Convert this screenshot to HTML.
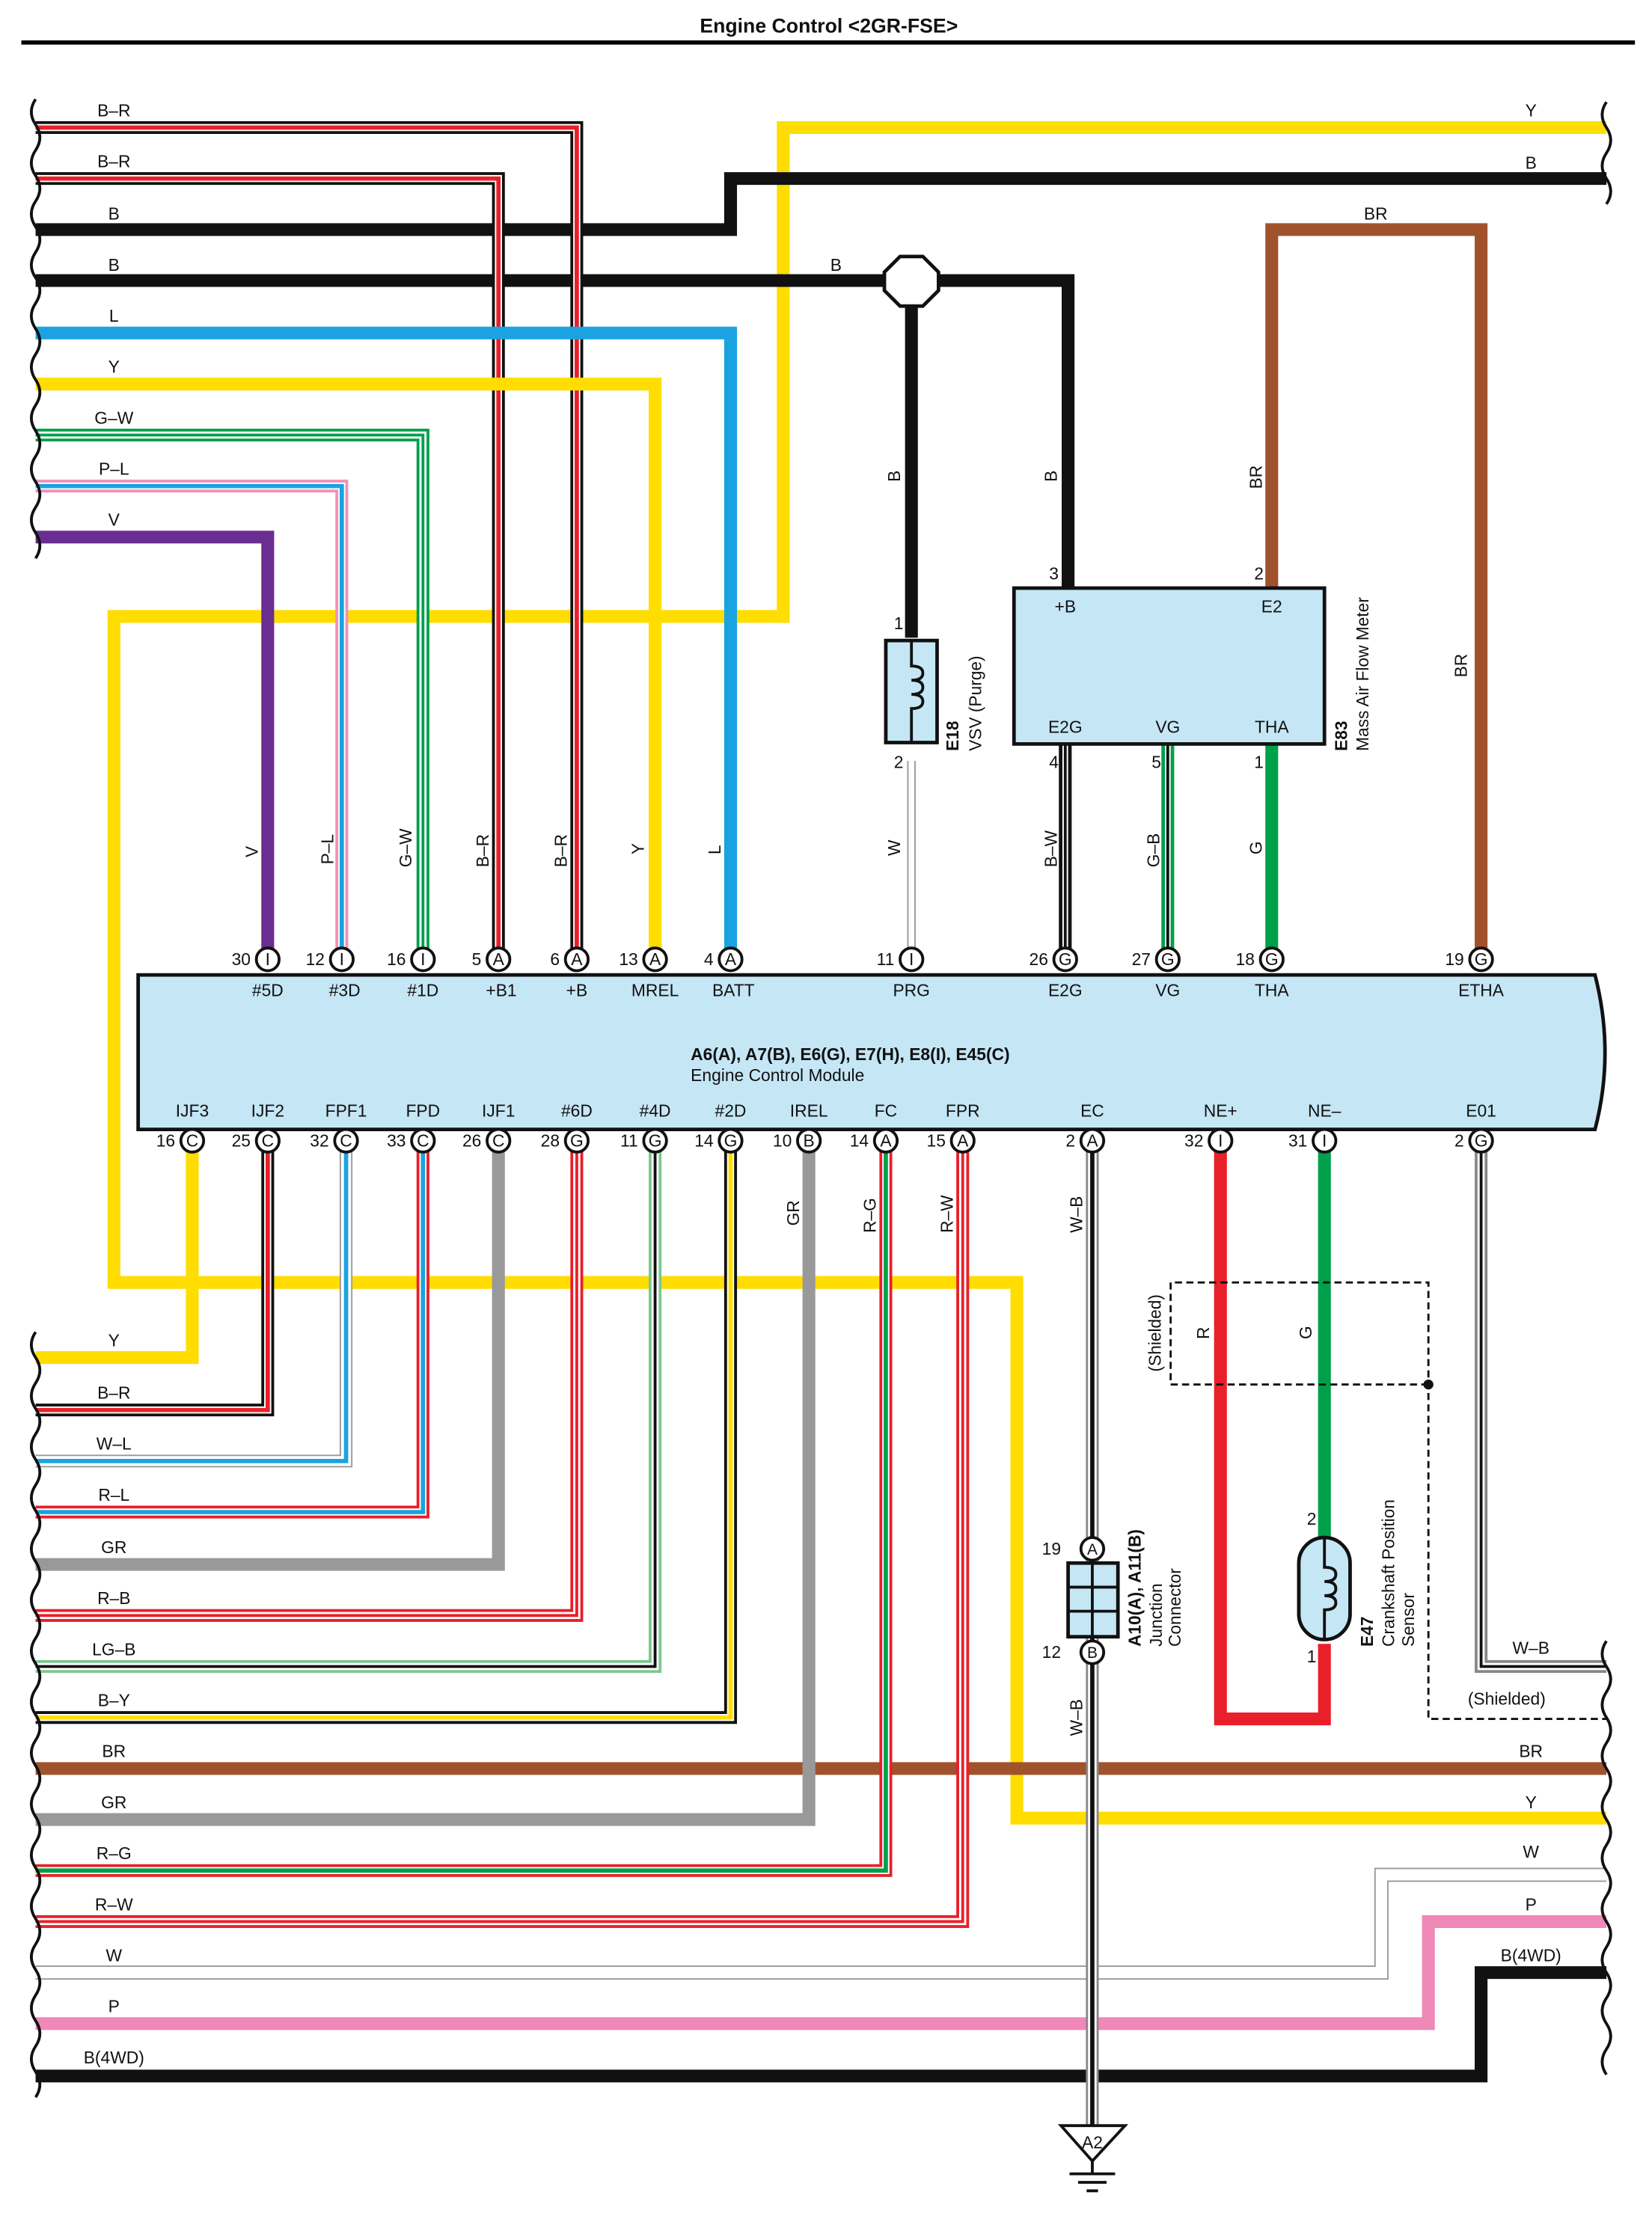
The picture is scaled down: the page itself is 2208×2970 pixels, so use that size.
<!DOCTYPE html>
<html><head><meta charset="utf-8"><style>
html,body{margin:0;padding:0;background:#fff}
svg{display:block}
text{font-family:"Liberation Sans",sans-serif;font-size:12px;fill:#111}
.w{fill:none;stroke-linejoin:miter;stroke-linecap:butt}
.b{font-weight:bold}
</style></head><body>
<svg width="2208" height="2970" viewBox="0 0 1160 1568" preserveAspectRatio="none" xmlns="http://www.w3.org/2000/svg">
<rect width="1160" height="1568" fill="#fff"/>
<text x="582" y="23" text-anchor="middle" class="b" style="font-size:14px">Engine Control &lt;2GR-FSE&gt;</text>
<line x1="15" y1="30" x2="1148" y2="30" stroke="#000" stroke-width="3"/>

<path class="w" d="M1128 90H550V435H80V905H714V1283H1128" stroke="#ffdd00" stroke-width="9"/>
<path class="w" d="M25 162H513V126H1128" stroke="#111" stroke-width="9"/>
<path class="w" d="M25 198H750V415" stroke="#111" stroke-width="9"/>
<path class="w" d="M640 198V450" stroke="#111" stroke-width="9"/>
<polygon points="632,181 648,181 659,192 659,205 648,216 632,216 621,205 621,192" fill="#fff" stroke="#111" stroke-width="2.5"/>
<path class="w" d="M1040 677V162H893V415" stroke="#a0522d" stroke-width="9"/>
<g class="w">
<path d="M25 90H405V677" stroke="#111" stroke-width="9"/><path d="M25 90H405V677" stroke="#fff" stroke-width="5"/><path d="M25 90H405V677" stroke="#e8202a" stroke-width="3"/>
<path d="M25 126H350V677" stroke="#111" stroke-width="9"/><path d="M25 126H350V677" stroke="#fff" stroke-width="5"/><path d="M25 126H350V677" stroke="#e8202a" stroke-width="3"/>
<path d="M25 235H513V677" stroke="#1aa3e0" stroke-width="9"/>
<path d="M25 271H460V677" stroke="#ffdd00" stroke-width="9"/>
<path d="M25 307H297V677" stroke="#00a04a" stroke-width="9"/><path d="M25 307H297V677" stroke="#fff" stroke-width="5"/><path d="M25 307H297V677" stroke="#00a04a" stroke-width="2"/>
<path d="M25 343H240V677" stroke="#f090b8" stroke-width="9"/><path d="M25 343H240V677" stroke="#fff" stroke-width="5"/><path d="M25 343H240V677" stroke="#1aa3e0" stroke-width="3"/>
<path d="M25 379H188V677" stroke="#6a2d91" stroke-width="9"/>
<path d="M640 537V677" stroke="#999" stroke-width="6"/><path d="M640 537V677" stroke="#fff" stroke-width="4"/>
<path d="M748 525V677" stroke="#111" stroke-width="9"/><path d="M748 525V677" stroke="#fff" stroke-width="4"/><path d="M748 525V677" stroke="#111" stroke-width="2"/>
<path d="M820 525V677" stroke="#00a04a" stroke-width="9"/><path d="M820 525V677" stroke="#fff" stroke-width="4"/><path d="M820 525V677" stroke="#111" stroke-width="2"/>
<path d="M893 525V677" stroke="#00a04a" stroke-width="9"/>
<path d="M135 805V958H25" stroke="#ffdd00" stroke-width="9"/>
<path d="M188 805V995H25" stroke="#111" stroke-width="9"/><path d="M188 805V995H25" stroke="#fff" stroke-width="5"/><path d="M188 805V995H25" stroke="#e8202a" stroke-width="3"/>
<path d="M243 805V1031H25" stroke="#999" stroke-width="9"/><path d="M243 805V1031H25" stroke="#fff" stroke-width="7"/><path d="M243 805V1031H25" stroke="#1aa3e0" stroke-width="3"/>
<path d="M297 805V1067H25" stroke="#e8202a" stroke-width="9"/><path d="M297 805V1067H25" stroke="#fff" stroke-width="5"/><path d="M297 805V1067H25" stroke="#1aa3e0" stroke-width="3"/>
<path d="M350 805V1104H25" stroke="#999" stroke-width="9"/>
<path d="M405 805V1140H25" stroke="#e8202a" stroke-width="9"/><path d="M405 805V1140H25" stroke="#fff" stroke-width="5"/><path d="M405 805V1140H25" stroke="#e8202a" stroke-width="2"/>
<path d="M460 805V1176H25" stroke="#7cc890" stroke-width="9"/><path d="M460 805V1176H25" stroke="#fff" stroke-width="5"/><path d="M460 805V1176H25" stroke="#111" stroke-width="2"/>
<path d="M513 805V1212H25" stroke="#111" stroke-width="9"/><path d="M513 805V1212H25" stroke="#fff" stroke-width="5"/><path d="M513 805V1212H25" stroke="#ffdd00" stroke-width="3"/>
<path d="M25 1248H1128" stroke="#a0522d" stroke-width="9"/>
<path d="M568 805V1284H25" stroke="#999" stroke-width="9"/>
<path d="M622 805V1320H25" stroke="#e8202a" stroke-width="9"/><path d="M622 805V1320H25" stroke="#fff" stroke-width="5"/><path d="M622 805V1320H25" stroke="#00a04a" stroke-width="3"/>
<path d="M676 805V1356H25" stroke="#e8202a" stroke-width="9"/><path d="M676 805V1356H25" stroke="#fff" stroke-width="5"/><path d="M676 805V1356H25" stroke="#e8202a" stroke-width="2"/>
<path d="M25 1392H970V1323H1128" stroke="#999" stroke-width="10"/><path d="M25 1392H970V1323H1128" stroke="#fff" stroke-width="8"/>
<path d="M25 1428H1003V1356H1128" stroke="#f088b8" stroke-width="9"/>
<path d="M25 1465H1040V1392H1128" stroke="#111" stroke-width="9"/>
<path d="M1040 805V1176H1128" stroke="#888" stroke-width="9"/><path d="M1040 805V1176H1128" stroke="#fff" stroke-width="5"/><path d="M1040 805V1176H1128" stroke="#111" stroke-width="2"/>
<path d="M767 805V1500" stroke="#888" stroke-width="9"/><path d="M767 805V1500" stroke="#fff" stroke-width="6"/><path d="M767 805V1500" stroke="#111" stroke-width="3"/>
<path d="M857 805V1213H930V1160" stroke="#e8202a" stroke-width="9"/>
<path d="M930 805V1085" stroke="#00a04a" stroke-width="9"/>
<path d="M1003 977H822V905H1003V1213H1128" stroke="#111" stroke-width="1.5" stroke-dasharray="5,3"/>
</g>
<circle cx="1003" cy="977" r="3.5" fill="#111"/>

<g class="w" stroke="#111" stroke-width="2">
<path d="M25 70q-6 9 0 18t0 18t0 18t0 18t0 18t0 18t0 18t0 18t0 18t0 18t0 18t0 18t0 18t0 18t0 18t0 18t0 18t0 18"/>
<path d="M25 940q-6 9 0 18t0 18t0 18t0 18t0 18t0 18t0 18t0 18t0 18t0 18t0 18t0 18t0 18t0 18t0 18t0 18t0 18t0 18t0 18t0 18t0 18t0 18t0 18t0 18t0 18t0 18t0 18t0 18t0 18t0 18"/>
<path d="M1128 72q-6 9 0 18t0 18t0 18t0 18"/>
<path d="M1128 1158q-6 9 0 18t0 18t0 18t0 18t0 18t0 18t0 18t0 18t0 18t0 18t0 18t0 18t0 18t0 18t0 18t0 18t0 18"/>
</g>

<path d="M97 688H1120q14 55 0 109H97Z" fill="#c5e6f5" stroke="#111" stroke-width="2.5"/>
<text x="485" y="748" class="b">A6(A), A7(B), E6(G), E7(H), E8(I), E45(C)</text>
<text x="485" y="763">Engine Control Module</text>

<rect x="712" y="415" width="218" height="110" fill="#c5e6f5" stroke="#111" stroke-width="2.5"/>
<text x="748" y="432" text-anchor="middle">+B</text><text x="893" y="432" text-anchor="middle">E2</text>
<text x="748" y="517" text-anchor="middle">E2G</text><text x="820" y="517" text-anchor="middle">VG</text><text x="893" y="517" text-anchor="middle">THA</text>
<text x="740" y="409" text-anchor="middle">3</text><text x="884" y="409" text-anchor="middle">2</text>
<text x="740" y="542" text-anchor="middle">4</text><text x="812" y="542" text-anchor="middle">5</text><text x="884" y="542" text-anchor="middle">1</text>
<text transform="translate(946,530) rotate(-90)" class="b">E83</text>
<text transform="translate(961,530) rotate(-90)">Mass Air Flow Meter</text>

<rect x="622" y="452" width="36" height="72" fill="#c5e6f5" stroke="#111" stroke-width="2.5"/>
<path class="w" d="M640 452V470q8 0 8 5t-8 5q8 0 8 5t-8 5q8 0 8 5t-8 5V524" stroke="#111" stroke-width="2"/>
<text x="631" y="444" text-anchor="middle">1</text><text x="631" y="542" text-anchor="middle">2</text>
<text transform="translate(673,530) rotate(-90)" class="b">E18</text>
<text transform="translate(689,530) rotate(-90)">VSV (Purge)</text>

<rect x="750" y="1103" width="35" height="52" fill="#c5e6f5" stroke="#111" stroke-width="2.5"/>
<path d="M767 1103V1155M750 1120H785M750 1137H785" stroke="#111" stroke-width="2"/>
<circle cx="767" cy="1093" r="8" fill="#fff" stroke="#111" stroke-width="2"/><text x="767" y="1097" text-anchor="middle" style="font-size:11px">A</text>
<circle cx="767" cy="1166" r="8" fill="#fff" stroke="#111" stroke-width="2"/><text x="767" y="1170" text-anchor="middle" style="font-size:11px">B</text>
<text x="745" y="1097" text-anchor="end">19</text><text x="745" y="1170" text-anchor="end">12</text>
<text transform="translate(801,1162) rotate(-90)" class="b">A10(A), A11(B)</text>
<text transform="translate(816,1162) rotate(-90)">Junction</text>
<text transform="translate(829,1162) rotate(-90)">Connector</text>
<polygon points="745,1500 790,1500 767,1525" fill="#fff" stroke="#111" stroke-width="2"/>
<text x="767" y="1516" text-anchor="middle">A2</text>
<path d="M767 1525V1534M751 1534H783M757 1540H777M763 1546H771" stroke="#111" stroke-width="2"/>

<rect x="912" y="1085" width="36" height="72" rx="18" fill="#c5e6f5" stroke="#111" stroke-width="2.5"/>
<path class="w" d="M930 1085V1106q8 0 8 5t-8 5q8 0 8 5t-8 5q8 0 8 5t-8 5V1157" stroke="#111" stroke-width="2"/>
<text x="921" y="1076" text-anchor="middle">2</text><text x="921" y="1173" text-anchor="middle">1</text>
<text transform="translate(964,1162) rotate(-90)" class="b">E47</text>
<text transform="translate(979,1162) rotate(-90)">Crankshaft Position</text>
<text transform="translate(993,1162) rotate(-90)">Sensor</text>
<text transform="translate(815,968) rotate(-90)">(Shielded)</text>
<text transform="translate(849,945) rotate(-90)">R</text>
<text transform="translate(921,945) rotate(-90)">G</text>

<g text-anchor="middle">
<text x="80" y="82">B–R</text><text x="80" y="118">B–R</text><text x="80" y="155">B</text><text x="80" y="191">B</text>
<text x="80" y="227">L</text><text x="80" y="263">Y</text><text x="80" y="299">G–W</text><text x="80" y="335">P–L</text><text x="80" y="371">V</text>
<text x="80" y="950">Y</text><text x="80" y="987">B–R</text><text x="80" y="1023">W–L</text><text x="80" y="1059">R–L</text>
<text x="80" y="1096">GR</text><text x="80" y="1132">R–B</text><text x="80" y="1168">LG–B</text><text x="80" y="1204">B–Y</text>
<text x="80" y="1240">BR</text><text x="80" y="1276">GR</text><text x="80" y="1312">R–G</text><text x="80" y="1348">R–W</text>
<text x="80" y="1384">W</text><text x="80" y="1420">P</text><text x="80" y="1456">B(4WD)</text>
<text x="1075" y="82">Y</text><text x="1075" y="119">B</text><text x="587" y="191">B</text><text x="966" y="155">BR</text>
<text x="1075" y="1167">W–B</text><text x="1058" y="1203">(Shielded)</text><text x="1075" y="1240">BR</text>
<text x="1075" y="1276">Y</text><text x="1075" y="1311">W</text><text x="1075" y="1348">P</text><text x="1075" y="1384">B(4WD)</text>
</g>
<g>
<text transform="translate(181,605) rotate(-90)">V</text>
<text transform="translate(234,610) rotate(-90)">P–L</text>
<text transform="translate(289,612) rotate(-90)">G–W</text>
<text transform="translate(343,612) rotate(-90)">B–R</text>
<text transform="translate(398,612) rotate(-90)">B–R</text>
<text transform="translate(452,603) rotate(-90)">Y</text>
<text transform="translate(506,603) rotate(-90)">L</text>
<text transform="translate(632,604) rotate(-90)">W</text>
<text transform="translate(742,612) rotate(-90)">B–W</text>
<text transform="translate(814,612) rotate(-90)">G–B</text>
<text transform="translate(886,603) rotate(-90)">G</text>
<text transform="translate(632,340) rotate(-90)">B</text>
<text transform="translate(742,340) rotate(-90)">B</text>
<text transform="translate(886,345) rotate(-90)">BR</text>
<text transform="translate(1030,478) rotate(-90)">BR</text>
<text transform="translate(561,865) rotate(-90)">GR</text>
<text transform="translate(615,870) rotate(-90)">R–G</text>
<text transform="translate(669,870) rotate(-90)">R–W</text>
<text transform="translate(760,870) rotate(-90)">W–B</text>
<text transform="translate(760,1225) rotate(-90)">W–B</text>
</g>

<g style="font-size:11px">
<g fill="#fff" stroke="#111" stroke-width="2">
<circle cx="188" cy="677" r="8"/><circle cx="240" cy="677" r="8"/><circle cx="297" cy="677" r="8"/><circle cx="350" cy="677" r="8"/><circle cx="405" cy="677" r="8"/><circle cx="460" cy="677" r="8"/><circle cx="513" cy="677" r="8"/><circle cx="640" cy="677" r="8"/><circle cx="748" cy="677" r="8"/><circle cx="820" cy="677" r="8"/><circle cx="893" cy="677" r="8"/><circle cx="1040" cy="677" r="8"/>
<circle cx="135" cy="805" r="8"/><circle cx="188" cy="805" r="8"/><circle cx="243" cy="805" r="8"/><circle cx="297" cy="805" r="8"/><circle cx="350" cy="805" r="8"/><circle cx="405" cy="805" r="8"/><circle cx="460" cy="805" r="8"/><circle cx="513" cy="805" r="8"/><circle cx="568" cy="805" r="8"/><circle cx="622" cy="805" r="8"/><circle cx="676" cy="805" r="8"/><circle cx="767" cy="805" r="8"/><circle cx="857" cy="805" r="8"/><circle cx="930" cy="805" r="8"/><circle cx="1040" cy="805" r="8"/>
</g>
<g text-anchor="middle" style="font-size:11px">
<text x="188" y="681">I</text><text x="240" y="681">I</text><text x="297" y="681">I</text><text x="350" y="681">A</text><text x="405" y="681">A</text><text x="460" y="681">A</text><text x="513" y="681">A</text><text x="640" y="681">I</text><text x="748" y="681">G</text><text x="820" y="681">G</text><text x="893" y="681">G</text><text x="1040" y="681">G</text>
<text x="135" y="809">C</text><text x="188" y="809">C</text><text x="243" y="809">C</text><text x="297" y="809">C</text><text x="350" y="809">C</text><text x="405" y="809">G</text><text x="460" y="809">G</text><text x="513" y="809">G</text><text x="568" y="809">B</text><text x="622" y="809">A</text><text x="676" y="809">A</text><text x="767" y="809">A</text><text x="857" y="809">I</text><text x="930" y="809">I</text><text x="1040" y="809">G</text>
</g>
<g text-anchor="end" style="font-size:12px">
<text x="176" y="681">30</text><text x="228" y="681">12</text><text x="285" y="681">16</text><text x="338" y="681">5</text><text x="393" y="681">6</text><text x="448" y="681">13</text><text x="501" y="681">4</text><text x="628" y="681">11</text><text x="736" y="681">26</text><text x="808" y="681">27</text><text x="881" y="681">18</text><text x="1028" y="681">19</text>
<text x="123" y="809">16</text><text x="176" y="809">25</text><text x="231" y="809">32</text><text x="285" y="809">33</text><text x="338" y="809">26</text><text x="393" y="809">28</text><text x="448" y="809">11</text><text x="501" y="809">14</text><text x="556" y="809">10</text><text x="610" y="809">14</text><text x="664" y="809">15</text><text x="755" y="809">2</text><text x="845" y="809">32</text><text x="918" y="809">31</text><text x="1028" y="809">2</text>
</g>
</g>
<g text-anchor="middle">
<text x="188" y="703">#5D</text><text x="242" y="703">#3D</text><text x="297" y="703">#1D</text><text x="352" y="703">+B1</text><text x="405" y="703">+B</text><text x="460" y="703">MREL</text><text x="515" y="703">BATT</text><text x="640" y="703">PRG</text><text x="748" y="703">E2G</text><text x="820" y="703">VG</text><text x="893" y="703">THA</text><text x="1040" y="703">ETHA</text>
<text x="135" y="788">IJF3</text><text x="188" y="788">IJF2</text><text x="243" y="788">FPF1</text><text x="297" y="788">FPD</text><text x="350" y="788">IJF1</text><text x="405" y="788">#6D</text><text x="460" y="788">#4D</text><text x="513" y="788">#2D</text><text x="568" y="788">IREL</text><text x="622" y="788">FC</text><text x="676" y="788">FPR</text><text x="767" y="788">EC</text><text x="857" y="788">NE+</text><text x="930" y="788">NE–</text><text x="1040" y="788">E01</text>
</g>
</svg>
</body></html>
